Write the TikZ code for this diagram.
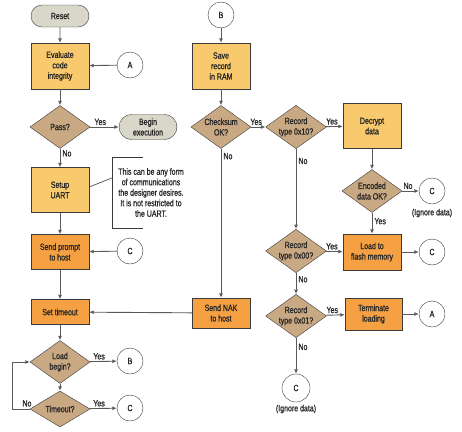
\documentclass[tikz,border=0pt]{standalone}
\usepackage{fontspec}
\setmainfont{Liberation Sans}[FakeStretch=0.78,FakeBold=0.9]
\usepackage{tikz}
\usetikzlibrary{arrows.meta,positioning,calc,shapes.geometric,shapes.misc}
\definecolor{lightorange}{HTML}{F9C96E}
\definecolor{darkorange}{HTML}{F4A043}
\definecolor{tan}{HTML}{C9A983}
\definecolor{stone}{HTML}{D9D7C9}
\definecolor{edge}{HTML}{3A3A3A}
\definecolor{wire}{HTML}{5A5A5A}
\tikzset{box/.style={draw=edge,fill=lightorange,align=center,minimum width=58pt,inner sep=1pt},hot/.style={box,fill=darkorange},term/.style={draw=edge,fill=stone,rounded rectangle,align=center,minimum width=60pt,minimum height=22pt,inner sep=1pt},test/.style={draw=edge,fill=tan,diamond,aspect=1.4,align=center,minimum width=60pt,minimum height=43pt,inner sep=0pt},conn/.style={draw=edge,fill=white,circle,minimum size=26pt,inner sep=0pt},arr/.style={-{Latex[length=4.5pt,width=4pt]},draw=wire,line width=0.9pt},yes/.style={above,pos=0.35,inner sep=1.5pt},no/.style={right,pos=0.25,inner sep=2pt}}
\begin{document}
\begin{tikzpicture}[x=1pt,y=-1pt,font=\fontsize{9}{10.5}\selectfont,every node/.append style={text=black!85}]
\useasboundingbox (0,0) rectangle (462,431);
% left column
\node[term] (reset) at (60,16) {Reset};
\node[box,minimum height=46pt] (eval) at (60,66) {Evaluate\\code\\integrity};
\node[conn] (a1) at (130,65) {A};
\node[test] (pass) at (60,127) {Pass?};
\node[term,minimum height=25pt] (begin) at (148,127) {Begin\\execution};
\node[box,minimum height=45pt] (uart) at (60,190) {Setup\\UART};
\node[align=center,minimum width=78pt,minimum height=71pt,inner sep=0pt] (note) at (151,192.5) {This can be any form\\of communications\\the designer desires.\\It is not restricted to\\the UART.};
\node[hot,minimum height=35pt] (prompt) at (60,252) {Send prompt\\to host};
\node[conn] (c1) at (130,251) {C};
\node[hot,minimum height=25pt] (tout) at (60,312) {Set timeout};
\node[test] (load) at (60,362) {Load\\begin?};
\node[conn] (b2) at (130,361) {B};
\node[test,minimum height=36pt] (tmo) at (60,409) {Timeout?};
\node[conn] (c2) at (130,408) {C};
\coordinate (loop) at (12,409);
% middle column
\node[conn] (b1) at (221,15) {B};
\node[box,minimum height=46pt] (save) at (221,66) {Save\\record\\in RAM};
\node[test] (chk) at (221,127) {Checksum\\OK?};
\node[hot,minimum height=30pt] (nak) at (221,313) {Send NAK\\to host};
\node[test] (r10) at (296,127) {Record\\type 0x10?};
\node[test] (r00) at (296,251) {Record\\type 0x00?};
\node[test] (r01) at (296,316) {Record\\type 0x01?};
\node[conn,minimum size=28pt] (c5) at (296,388) {C};
\node[inner sep=0pt] (ign2) at (296,409) {(Ignore data)};
% right column
\node[box,minimum height=45pt] (dec) at (372,126) {Decrypt\\data};
\node[test] (enc) at (372,191) {Encoded\\data OK?};
\node[conn] (c3) at (432,191) {C};
\node[inner sep=0pt] (ign1) at (432,213) {(Ignore data)};
\node[hot,minimum height=36pt] (flash) at (372,252) {Load to\\flash memory};
\node[conn] (c4) at (432,252) {C};
\node[hot,minimum width=57pt,minimum height=32pt] (stop) at (373.5,314) {Terminate\\loading};
\node[conn] (a2) at (432,314) {A};
% connectors
\draw[arr] (reset)--(eval);
\draw[arr] (a1)--(eval);
\draw[arr] (eval)--(pass);
\draw[arr] (pass)--node[yes]{Yes}(begin);
\draw[arr] (pass)--node[no]{No}(uart);
\draw[edge,line width=0.6pt] ($(note.north west)+(31,0)$)--(note.north west)--(note.south west)--++(31,0);
\draw[edge,line width=0.6pt] ($(uart.east)+(0,-3)$)--($(note.west)+(0,-14.5)$);
\draw[arr] (uart)--(prompt);
\draw[arr] (c1)--(prompt);
\draw[arr] (prompt)--(tout);
\draw[arr] (nak)--(tout);
\draw[arr] (tout)--(load);
\draw[arr] (load)--node[yes]{Yes}(b2);
\draw[arr] (load)--(tmo);
\draw[arr] (tmo)--node[yes]{Yes}(c2);
\draw[arr] (tmo.west)--(loop)node[above right,pos=0.55,inner sep=2pt]{No}|-(load.west);
\draw[arr] (b1)--(save);
\draw[arr] (save)--(chk);
\draw[arr] (chk)--node[yes]{Yes}(r10);
\draw[arr] (chk)--node[no,pos=0.05]{No}(nak);
\draw[arr] (r10)--node[yes]{Yes}(dec);
\draw[arr] (r10)--node[no,pos=0.15]{No}(r00);
\draw[arr] (dec)--(enc);
\draw[arr] (enc)--node[yes]{No}(c3);
\draw[arr] (enc)--node[no,pos=0.4]{Yes}(flash);
\draw[arr] (r00)--node[yes]{Yes}(flash);
\draw[arr] (flash)--(c4);
\draw[arr] (r00)--node[no,pos=0.3]{No}(r01);
\draw[arr] (r01)--node[yes]{Yes}(stop);
\draw[arr] (stop)--(a2);
\draw[arr] (r01)--node[no,pos=0.25]{No}(c5);
\end{tikzpicture}
\end{document}
